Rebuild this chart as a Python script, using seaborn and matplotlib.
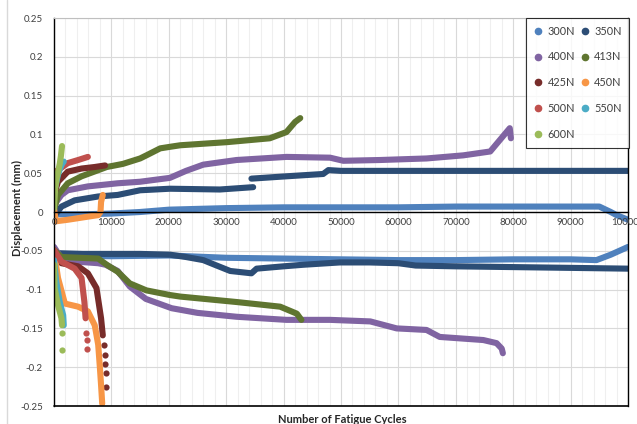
import matplotlib
matplotlib.use("Agg")
import matplotlib.pyplot as plt
from matplotlib.lines import Line2D
from matplotlib.ticker import MultipleLocator
import pandas as pd
import seaborn as sns

# ---- data: fatigue cycles vs. displacement (upper / lower envelope) ----
loads = ["300N", "350N", "400N", "413N", "425N", "450N", "500N", "550N", "600N"]
colors = ["#4F81BD", "#2C4D75", "#8064A2", "#5F7530", "#772C2A",
          "#F79646", "#C0504D", "#4BACC6", "#9BBB59"]

n300_up = [500, 5000, 10000, 15000, 20000, 25000, 30000, 40000, 50000, 60000,
           70000, 80000, 90000, 95000, 97000, 98000, 100000]
d300_up = [-0.003, -0.003, -0.002, 0.000, 0.003, 0.004, 0.005, 0.006, 0.006, 0.006,
           0.007, 0.007, 0.007, 0.007, 0.000, -0.004, -0.010]
n300_lo = [500, 10000, 20000, 30000, 40000, 50000, 60000, 70000, 80000, 90000,
           94500, 97000, 100000]
d300_lo = [-0.056, -0.057, -0.056, -0.059, -0.060, -0.061, -0.062, -0.062, -0.061,
           -0.061, -0.062, -0.055, -0.045]

n350_up_a = [400, 1300, 3600, 7700, 11100, 15000, 20200, 28900, 34700]
d350_up_a = [-0.002, 0.007, 0.015, 0.020, 0.022, 0.028, 0.030, 0.029, 0.032]
n350_up_b = [34400, 40500, 46900, 47800, 50000, 60000, 70000, 80000, 90000, 100000]
d350_up_b = [0.043, 0.046, 0.049, 0.054, 0.053, 0.053, 0.053, 0.053, 0.053, 0.053]
n350_lo = [400, 5000, 10000, 15000, 20200, 23000, 26000, 28000, 30700, 34400,
           35300, 40000, 43400, 49800, 55000, 60000, 63000, 70000, 80000, 90000, 100000]
d350_lo = [-0.053, -0.054, -0.054, -0.054, -0.055, -0.058, -0.062, -0.068, -0.076,
           -0.079, -0.073, -0.070, -0.068, -0.065, -0.065, -0.066, -0.069, -0.070,
           -0.071, -0.072, -0.073]

n400_up = [0, 400, 1300, 2400, 5900, 11100, 15000, 20200, 23000, 26000, 31800, 40500,
           48100, 50400, 56800, 64900, 71300, 76000, 77700, 79400, 79600]
d400_up = [0.005, 0.013, 0.022, 0.028, 0.033, 0.037, 0.039, 0.044, 0.053, 0.061, 0.067,
           0.071, 0.070, 0.066, 0.067, 0.069, 0.073, 0.078, 0.093, 0.108, 0.095]
n400_lo = [0, 1300, 4000, 7700, 9000, 11100, 13200, 16000, 20500, 25000, 31800,
           40500, 48100, 55100, 59700, 64900, 67200, 74800, 77100, 78000, 78200]
d400_lo = [-0.045, -0.060, -0.064, -0.066, -0.068, -0.076, -0.096, -0.112, -0.124,
           -0.130, -0.135, -0.139, -0.139, -0.141, -0.150, -0.152, -0.161, -0.165,
           -0.169, -0.176, -0.182]

n413_up = [0, 700, 2400, 4800, 9200, 12000, 15000, 16100, 18500, 20200, 22000,
           30100, 37600, 40500, 42000, 42900]
d413_up = [0.003, 0.022, 0.037, 0.046, 0.058, 0.062, 0.069, 0.073, 0.082, 0.084,
           0.086, 0.090, 0.095, 0.103, 0.116, 0.121]
n413_lo = [0, 1300, 7700, 9200, 11100, 13200, 16100, 20200, 22000, 31800, 39400,
           42300, 43100]
d413_lo = [-0.049, -0.058, -0.060, -0.068, -0.077, -0.092, -0.101, -0.107, -0.109,
           -0.116, -0.122, -0.131, -0.139]

n425_up = [0, 700, 2400, 4800, 7100, 8900]
d425_up = [0.022, 0.039, 0.052, 0.056, 0.058, 0.060]
n425_lo = [0, 1300, 4200, 5900, 7400, 8200, 8500]
d425_lo = [-0.055, -0.066, -0.070, -0.079, -0.098, -0.137, -0.159]
n425_pts = [8700, 8800, 8900, 9000, 9100]
d425_pts = [-0.172, -0.184, -0.196, -0.208, -0.225]

n450_up = [0, 300, 2400, 5900, 7700, 8100, 8200, 8500]
d450_up = [0.005, -0.012, -0.010, -0.006, -0.004, 0.000, 0.013, 0.022]
n450_lo = [0, 700, 1900, 4200, 5900, 7100, 7700, 8000, 8200, 8400]
d450_lo = [-0.051, -0.085, -0.118, -0.122, -0.128, -0.146, -0.171, -0.201, -0.223,
           -0.247]

n500_up = [0, 500, 2400, 4200, 5900]
d500_up = [0.050, 0.053, 0.063, 0.067, 0.071]
n500_lo = [0, 1300, 3600, 4800, 5300, 5500]
d500_lo = [-0.049, -0.064, -0.073, -0.085, -0.116, -0.137]
n500_pts = [5600, 5700, 5800]
d500_pts = [-0.156, -0.165, -0.176]

n550_up = [0, 300, 700, 1000, 1400, 1700]
d550_up = [0.025, 0.035, 0.048, 0.055, 0.062, 0.065]
n550_lo = [0, 400, 1000, 1600, 1700]
d550_lo = [-0.062, -0.090, -0.116, -0.133, -0.146]

n600_up = [0, 200, 500, 800, 1000, 1200, 1400]
d600_up = [0.005, 0.030, 0.045, 0.055, 0.062, 0.072, 0.085]
n600_lo = [0, 100, 700, 1300, 1400]
d600_lo = [-0.068, -0.098, -0.120, -0.137, -0.146]
n600_pts = [1400, 1400]
d600_pts = [-0.156, -0.178]

y_ticks = [-0.25, -0.2, -0.15, -0.1, -0.05, 0, 0.05, 0.1, 0.15, 0.2, 0.25]
y_labels = ["-0.25", "-0.2", "-0.15", "-0.1", "-0.05", "0", "0.05", "0.1",
            "0.15", "0.2", "0.25"]
x_ticks = [0, 10000, 20000, 30000, 40000, 50000, 60000, 70000, 80000, 90000, 100000]
x_minor_step = 2000

# ---- assemble long-form tables ----
curves = [
    ("300N", "300N-up", n300_up, d300_up), ("300N", "300N-lo", n300_lo, d300_lo),
    ("350N", "350N-upa", n350_up_a, d350_up_a), ("350N", "350N-upb", n350_up_b, d350_up_b),
    ("350N", "350N-lo", n350_lo, d350_lo),
    ("400N", "400N-up", n400_up, d400_up), ("400N", "400N-lo", n400_lo, d400_lo),
    ("413N", "413N-up", n413_up, d413_up), ("413N", "413N-lo", n413_lo, d413_lo),
    ("425N", "425N-up", n425_up, d425_up), ("425N", "425N-lo", n425_lo, d425_lo),
    ("450N", "450N-up", n450_up, d450_up), ("450N", "450N-lo", n450_lo, d450_lo),
    ("500N", "500N-up", n500_up, d500_up), ("500N", "500N-lo", n500_lo, d500_lo),
    ("550N", "550N-up", n550_up, d550_up), ("550N", "550N-lo", n550_lo, d550_lo),
    ("600N", "600N-up", n600_up, d600_up), ("600N", "600N-lo", n600_lo, d600_lo),
]
rows = []
for load, seg, xs, ys in curves:
    for i, (x, y) in enumerate(zip(xs, ys)):
        rows.append({"load": load, "seg": seg, "i": i, "cycles": x, "disp": y})
df = pd.DataFrame(rows)

dots = [("425N", n425_pts, d425_pts), ("500N", n500_pts, d500_pts),
        ("600N", n600_pts, d600_pts)]
dot_rows = []
for load, xs, ys in dots:
    for x, y in zip(xs, ys):
        dot_rows.append({"load": load, "cycles": x, "disp": y})
df_dots = pd.DataFrame(dot_rows)

palette = dict(zip(loads, colors))

# ---- figure ----
sns.set_theme(style="white")
plt.rcParams["font.family"] = ["Lato", "DejaVu Sans"]

fig = plt.figure(figsize=(6.37, 4.24), dpi=100)
ax = fig.add_axes([54 / 637, 18 / 424, 574 / 637, 388 / 424])

# gridlines behind everything
for xm in range(0, 100001, x_minor_step):
    if xm % 10000:
        ax.axvline(xm, color="#EFEFEF", linewidth=0.8, zorder=0.1)
for xv in x_ticks:
    ax.axvline(xv, color="#D9D9D9", linewidth=0.8, zorder=0.2)
for yv in y_ticks:
    ax.axhline(yv, color="#D9D9D9", linewidth=0.8, zorder=0.2)

for load in loads:
    sub = df[df["load"] == load]
    sns.lineplot(data=sub, x="cycles", y="disp", units="seg", estimator=None,
                 sort=False, color=palette[load], linewidth=4.4, ax=ax,
                 legend=False, solid_capstyle="round", solid_joinstyle="round")
    dsub = df_dots[df_dots["load"] == load]
    if len(dsub):
        sns.scatterplot(data=dsub, x="cycles", y="disp", color=palette[load],
                        s=20, linewidth=0, ax=ax, legend=False)

ax.set_xlim(0, 100000)
ax.set_ylim(-0.25, 0.25)
ax.set_xlabel("")
ax.set_ylabel("")
ax.grid(False)

ax.set_xticks(x_ticks)
ax.xaxis.set_minor_locator(MultipleLocator(x_minor_step))
ax.set_yticks(y_ticks)
ax.set_yticklabels(y_labels)

# horizontal axis crosses at zero, drawn above the data
ax.spines["bottom"].set_position(("data", 0))
for side in ["left", "bottom", "right"]:
    ax.spines[side].set_color("black")
    ax.spines[side].set_linewidth(1.0)
ax.spines["bottom"].set_zorder(4)
ax.spines["top"].set_color("#BFBFBF")
ax.spines["top"].set_linewidth(0.8)
ax.axhline(-0.25, color="black", linewidth=1.2, clip_on=False, zorder=5)
ax.xaxis.set_zorder(4)

ax.tick_params(axis="x", which="major", direction="in", length=3, width=0.8,
               color="black", labelsize=7, labelcolor="#404040", pad=4)
ax.tick_params(axis="x", which="minor", direction="in", length=2, width=0.6,
               color="black")
ax.tick_params(axis="y", which="major", length=0, labelsize=7,
               labelcolor="#404040", pad=8)
for lab in ax.get_xticklabels():
    lab.set_clip_on(False)

# axis titles
fig.text(17 / 637, 1 - 208 / 424, "Displacement (mm)", rotation=90,
         ha="center", va="center", fontsize=8, fontweight="bold", color="#262626")
fig.text(342 / 637, 1 - 414 / 424, "Number of Fatigue Cycles",
         ha="center", va="top", fontsize=8, fontweight="bold", color="#262626")

# outer chart frame edge
fig.add_artist(Line2D([7 / 637, 7 / 637], [0, 1], color="#D9D9D9", linewidth=1.0))

# legend (row-major order via column-first fill)
leg_order = ["300N", "400N", "425N", "500N", "600N", "350N", "413N", "450N", "550N"]
handles = [Line2D([], [], marker="o", linestyle="", markersize=4.5,
                  color=palette[l]) for l in leg_order]
leg = ax.legend(handles, leg_order, ncol=2, loc="upper right",
                bbox_to_anchor=(1.002, 1.0), borderaxespad=0, fontsize=7.8,
                frameon=True, fancybox=False, edgecolor="black",
                handlelength=0.8, handletextpad=0.45, columnspacing=0.5,
                labelspacing=1.37, borderpad=0.7)
leg.get_frame().set_linewidth(0.8)
leg.set_zorder(6)
for t in leg.get_texts():
    t.set_color("#404040")

fig.savefig("out.png", dpi=100)
